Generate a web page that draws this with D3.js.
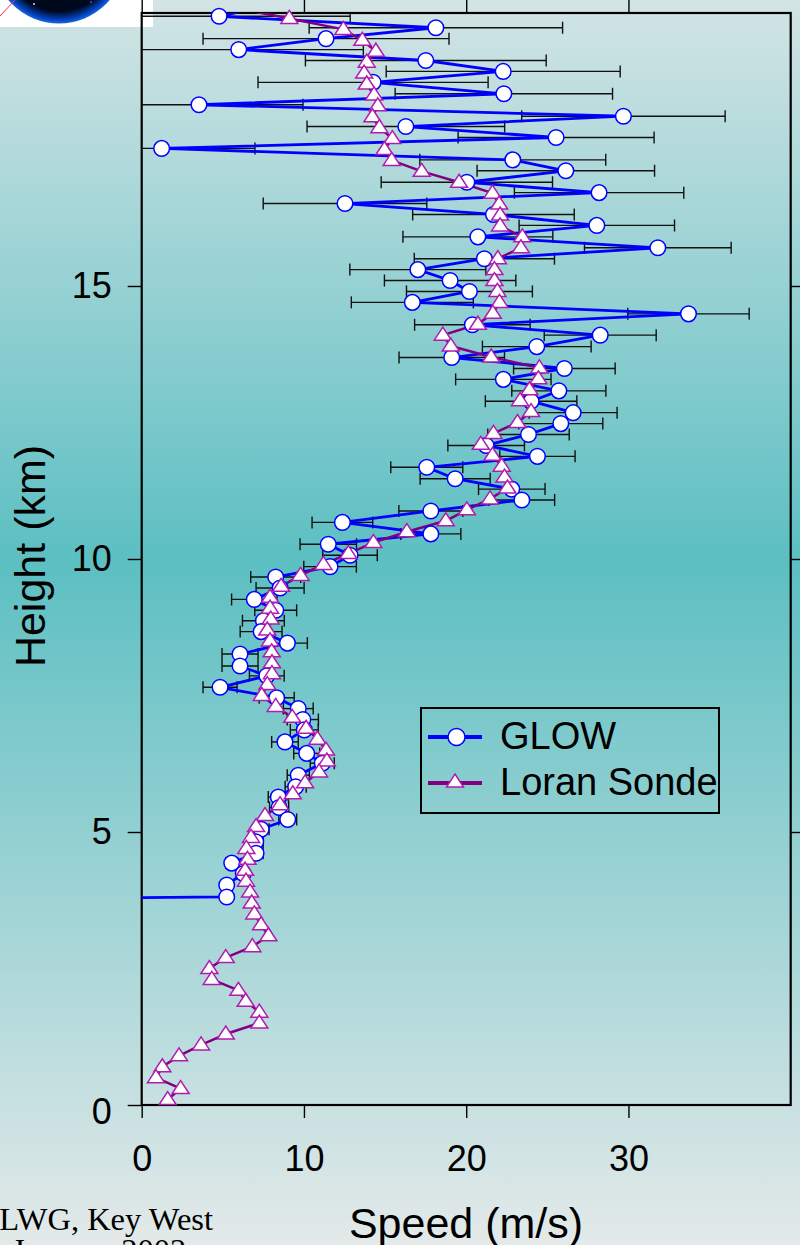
<!DOCTYPE html>
<html>
<head>
<meta charset="utf-8">
<script src="https://cdn.jsdelivr.net/npm/d3@7"></script>
<style>
  body { margin: 0; background: #fff; }
  svg { display: block; }
  text { font-family: "Liberation Sans", Arial, sans-serif; fill: #000; }
</style>
</head>
<body>
<div id="chart"></div>
<script>
// GLOW wind speed profile, listed top to bottom (km, m/s, +/- m/s)
// first point sits just above the frame, last one is a missing-value fill (both clipped)
const glowHeight = [
  20.14, 19.94, 19.73, 19.53, 19.33, 19.13, 18.93, 18.73, 18.52, 18.32,
  18.11, 17.92, 17.72, 17.52, 17.31, 17.11, 16.90, 16.71, 16.51, 16.31,
  16.11, 15.90, 15.70, 15.50, 15.30, 15.10, 14.90, 14.70, 14.49, 14.29,
  14.10, 13.89, 13.69, 13.49, 13.29, 13.08, 12.89, 12.68, 12.48, 12.28,
  12.08, 11.88, 11.68, 11.47, 11.28, 11.08, 10.88, 10.67, 10.46, 10.27,
  10.07, 9.86, 9.67, 9.47, 9.26, 9.06, 8.87, 8.67, 8.46, 8.26,
  8.04, 7.86, 7.65, 7.46, 7.26, 7.06, 6.87, 6.65, 6.44, 6.26,
  6.04, 5.83, 5.64, 5.45, 5.23, 5.05, 4.82, 4.61, 4.43, 4.24,
  4.03, 3.81, 3.61
];
const glowSpeed = [
  7.9, 4.77, 18.13, 11.36, 5.98, 17.51, 22.28, 14.26, 22.32, 3.53,
  29.69, 16.28, 25.54, 1.23, 22.87, 26.14, 20.04, 28.19, 12.53, 21.68,
  28.05, 20.72, 31.81, 21.12, 17.02, 19.01, 20.20, 16.68, 33.70, 20.38,
  28.26, 24.35, 19.11, 26.05, 22.29, 25.71, 24.00, 26.59, 25.83, 23.84,
  21.23, 24.39, 17.57, 19.32, 22.81, 23.43, 17.82, 12.37, 17.82, 11.50,
  12.84, 11.61, 8.26, 8.53, 6.94, 8.26, 7.50, 7.36, 8.98, 6.06,
  6.06, 7.71, 4.83, 8.32, 9.65, 9.93, 10.02, 8.83, 10.17, 11.13,
  9.65, 9.49, 8.42, 8.47, 9.00, 7.36, 7.03, 7.05, 5.55, 6.26,
  5.24, 5.24, -99
];
const glowError = [
  0, 8.08, 7.81, 7.58, 7.68, 7.42, 7.21, 7.09, 6.70, 6.41,
  6.27, 6.09, 6.04, 5.75, 5.73, 5.47, 5.28, 5.22, 5.04, 4.98,
  4.79, 4.62, 4.52, 4.32, 4.19, 4.05, 3.88, 3.76, 3.74, 3.56,
  3.45, 3.35, 3.25, 3.13, 2.94, 2.90, 2.82, 2.71, 2.59, 2.51,
  2.36, 2.32, 2.22, 2.16, 2.05, 2.02, 1.97, 1.87, 1.85, 1.74,
  1.68, 1.62, 1.54, 1.48, 1.40, 1.29, 1.29, 1.29, 1.23, 1.11,
  1.11, 1.07, 1.05, 1.08, 0.92, 0.96, 0.86, 0.82, 0.80, 0.74,
  0.68, 0.65, 0.62, 0.59, 0.55, 0.49, 0.46, 0.43, 0.37, 0.34,
  0.31, 0.28, 0
];

// Loran sonde profile, top to bottom (first point is above the frame)
const loranHeight = [
  20.1, 19.9, 19.7, 19.5, 19.3, 19.1, 18.9, 18.7, 18.5, 18.3, 18.1,
  17.9, 17.7, 17.5, 17.3, 17.1, 16.9, 16.7, 16.5, 16.3, 16.1,
  15.9, 15.7, 15.5, 15.3, 15.1, 14.9, 14.7, 14.5, 14.3, 14.1,
  13.9, 13.7, 13.5, 13.3, 13.1, 12.9, 12.7, 12.5, 12.3, 12.1,
  11.9, 11.7, 11.5, 11.3, 11.1, 10.9, 10.7, 10.5, 10.3, 10.1,
  9.9, 9.7, 9.5, 9.3, 9.1, 8.9, 8.7, 8.5, 8.3, 8.1,
  7.9, 7.7, 7.5, 7.3, 7.1, 6.9, 6.7, 6.5, 6.3, 6.1,
  5.9, 5.7, 5.5, 5.3, 5.1, 4.9, 4.7, 4.5, 4.3, 4.1,
  3.9, 3.7, 3.5, 3.3, 3.1, 2.9, 2.7, 2.5, 2.3, 2.1,
  1.9, 1.7, 1.5, 1.3, 1.1, 0.9, 0.7, 0.5, 0.3, 0.1
];
const loranSpeed = [
  5.6, 9.10, 12.43, 13.60, 14.43, 13.87, 13.71, 13.87, 14.32, 14.55, 14.22,
  14.65, 15.45, 14.96, 15.41, 17.26, 19.56, 21.62, 22.03, 22.09, 22.09,
  23.46, 23.37, 21.95, 21.74, 21.74, 21.92, 22.05, 21.64, 20.72, 18.56,
  19.05, 21.54, 24.51, 24.45, 23.90, 23.32, 24.00, 23.16, 21.68, 20.90,
  21.62, 22.19, 22.36, 22.54, 21.47, 20.04, 18.74, 16.34, 14.28, 12.74,
  11.20, 9.79, 8.59, 7.91, 7.91, 7.95, 7.74, 7.91, 8.01, 8.03,
  8.03, 7.74, 7.40, 8.26, 9.28, 10.13, 10.83, 11.36, 11.41, 10.93,
  10.07, 9.31, 8.53, 7.60, 7.05, 6.74, 6.45, 6.52, 6.37, 6.43,
  6.68, 6.78, 6.94, 7.36, 7.81, 6.82, 5.18, 4.17, 4.32, 5.96,
  6.41, 7.25, 7.25, 5.18, 3.66, 2.30, 1.27, 0.88, 2.40, 1.60
];

const xTicks = [0, 10, 20, 30];
const yTicks = [0, 5, 10, 15];
const rightTicks = [5, 10, 15];
const seriesNames = ["GLOW", "Loran Sonde"];

const W = 800, H = 1245;
const plotLeft = 141.7, plotRight = 790.7, plotTop = 13, plotBottom = 1105;
const glowColor = "#0000ff";
const loranColor = "#800080";
const triColor = "#b01cb0";

const svg = d3.select("#chart").append("svg")
  .attr("width", W).attr("height", H);

// background gradient
const defs = svg.append("defs");
const bg = defs.append("linearGradient").attr("id", "bg")
  .attr("x1", 0).attr("y1", 0).attr("x2", 0).attr("y2", 1);
bg.append("stop").attr("offset", "0%").attr("stop-color", "#d3e4e5");
bg.append("stop").attr("offset", "45%").attr("stop-color", "#5cbfc2");
bg.append("stop").attr("offset", "100%").attr("stop-color", "#e4e9e9");
svg.append("rect").attr("width", W).attr("height", H).attr("fill", "url(#bg)");

// logo corner
const globe = defs.append("radialGradient").attr("id", "globe")
  .attr("cx", "50%").attr("cy", "50%").attr("r", "50%");
globe.append("stop").attr("offset", "0%").attr("stop-color", "#000208");
globe.append("stop").attr("offset", "82%").attr("stop-color", "#00091f");
globe.append("stop").attr("offset", "94%").attr("stop-color", "#0040b8");
globe.append("stop").attr("offset", "100%").attr("stop-color", "#1a66e0");
defs.append("clipPath").attr("id", "logoClip")
  .append("rect").attr("width", 153).attr("height", 27);
const logo = svg.append("g").attr("clip-path", "url(#logoClip)");
logo.append("rect").attr("width", 153).attr("height", 27).attr("fill", "#fff");
logo.append("circle").attr("cx", 59).attr("cy", -43).attr("r", 66.5).attr("fill", "url(#globe)");
logo.append("circle").attr("cx", 34).attr("cy", 4).attr("r", 1).attr("fill", "#dde");
logo.append("circle").attr("cx", 91).attr("cy", 2).attr("r", 0.8).attr("fill", "#99a");
logo.append("line").attr("x1", 0).attr("y1", 16).attr("x2", 15).attr("y2", 0)
  .attr("stroke", "#ff2a55").attr("stroke-width", 1);

const x = d3.scaleLinear().domain([0, 40]).range([plotLeft, plotRight]);
const y = d3.scaleLinear().domain([0, 20]).range([plotBottom, plotTop]);

// axes
function styleAxis(g) {
  g.select(".domain").remove();
  g.selectAll(".tick line").attr("stroke", "#000").attr("stroke-width", 1.4);
  g.selectAll("text").attr("font-size", 36).attr("fill", "#000")
    .attr("font-family", "'Liberation Sans', Arial, sans-serif");
}
svg.append("g").attr("transform", `translate(${plotLeft},0)`)
  .call(d3.axisLeft(y).tickValues(yTicks).tickSize(14).tickPadding(16).tickFormat(d3.format("d")))
  .call(styleAxis)
  .selectAll(".tick text").filter(d => d === 0).attr("y", 7);
svg.append("g").attr("transform", `translate(0,${plotBottom})`)
  .call(d3.axisBottom(x).tickValues(xTicks).tickSize(13).tickPadding(27).tickFormat(d3.format("d")))
  .call(styleAxis);
svg.append("g").attr("transform", `translate(0,${plotTop})`)
  .call(d3.axisTop(x).tickValues(xTicks).tickSize(13).tickFormat(""))
  .call(styleAxis);
svg.append("g").attr("transform", `translate(${plotRight},0)`)
  .call(d3.axisRight(y).tickValues(rightTicks).tickSize(13).tickFormat(""))
  .call(styleAxis);

svg.append("rect").attr("x", plotLeft).attr("y", plotTop)
  .attr("width", plotRight - plotLeft).attr("height", plotBottom - plotTop)
  .attr("fill", "none").attr("stroke", "#000").attr("stroke-width", 2.2);

// titles
svg.append("text").attr("x", 466).attr("y", 1238).attr("text-anchor", "middle")
  .attr("font-size", 43).text("Speed (m/s)");
svg.append("text").attr("transform", "translate(45,556) rotate(-90)")
  .attr("text-anchor", "middle").attr("font-size", 43).text("Height (km)");
svg.append("text").attr("x", 213).attr("y", 1230).attr("text-anchor", "end")
  .style("font-family", "'Liberation Serif', 'Times New Roman', serif")
  .attr("font-size", 32.5).text("LWG, Key West");
svg.append("text").attr("x", 12).attr("y", 1261)
  .style("font-family", "'Liberation Serif', 'Times New Roman', serif")
  .attr("font-size", 32.5).text("January 2002");

// data
defs.append("clipPath").attr("id", "plotClip")
  .append("rect").attr("x", plotLeft).attr("y", plotTop)
  .attr("width", plotRight - plotLeft).attr("height", plotBottom - plotTop);

const glow = glowHeight.map((h, i) => ({ h: h, s: glowSpeed[i], e: glowError[i] }));
const loran = loranHeight.map((h, i) => ({ h: h, s: loranSpeed[i] }));
const inside = d => d.h >= 0 && d.h <= 20 && d.s >= 0 && d.s <= 40;

const clipped = svg.append("g").attr("clip-path", "url(#plotClip)");
const bars = clipped.append("g").attr("stroke", "#111").attr("stroke-width", 1.4);
glow.filter(d => d.e > 0).forEach(d => {
  const yy = y(d.h), x1 = x(d.s - d.e), x2 = x(d.s + d.e);
  bars.append("line").attr("x1", x1).attr("x2", x2).attr("y1", yy).attr("y2", yy);
  bars.append("line").attr("x1", x1).attr("x2", x1).attr("y1", yy - 6).attr("y2", yy + 6);
  bars.append("line").attr("x1", x2).attr("x2", x2).attr("y1", yy - 6).attr("y2", yy + 6);
});

const line = d3.line().x(d => x(d.s)).y(d => y(d.h));
clipped.append("path").datum(glow).attr("d", line)
  .attr("fill", "none").attr("stroke", glowColor).attr("stroke-width", 2.8)
  .attr("stroke-linejoin", "round");

svg.append("g").selectAll("circle").data(glow.filter(inside)).join("circle")
  .attr("cx", d => x(d.s)).attr("cy", d => y(d.h)).attr("r", 7.8)
  .attr("fill", "#fff").attr("stroke", glowColor).attr("stroke-width", 1.5);

const tri = "M0,-8L8.5,5L-8.5,5Z";
clipped.append("path").datum(loran).attr("d", line)
  .attr("fill", "none").attr("stroke", loranColor).attr("stroke-width", 2.5)
  .attr("stroke-linejoin", "round");
svg.append("g").selectAll("path").data(loran.filter(inside)).join("path")
  .attr("d", tri).attr("transform", d => `translate(${x(d.s)},${y(d.h)})`)
  .attr("fill", "#fff").attr("stroke", triColor).attr("stroke-width", 1.5);

// legend
const lg = svg.append("g");
lg.append("rect").attr("x", 421).attr("y", 708).attr("width", 298).attr("height", 105)
  .attr("fill", "none").attr("stroke", "#000").attr("stroke-width", 2);
lg.append("line").attr("x1", 428).attr("x2", 482).attr("y1", 737).attr("y2", 737)
  .attr("stroke", glowColor).attr("stroke-width", 4);
lg.append("circle").attr("cx", 456.5).attr("cy", 737).attr("r", 8.5)
  .attr("fill", "#fff").attr("stroke", glowColor).attr("stroke-width", 1.5);
lg.append("text").attr("x", 500).attr("y", 749).attr("font-size", 38).text(seriesNames[0]);
lg.append("line").attr("x1", 428).attr("x2", 482).attr("y1", 783).attr("y2", 783)
  .attr("stroke", loranColor).attr("stroke-width", 4);
lg.append("path").attr("d", tri).attr("transform", "translate(455,782)")
  .attr("fill", "#fff").attr("stroke", triColor).attr("stroke-width", 1.5);
lg.append("text").attr("x", 500).attr("y", 795).attr("font-size", 38).text(seriesNames[1]);
</script>
</body>
</html>
